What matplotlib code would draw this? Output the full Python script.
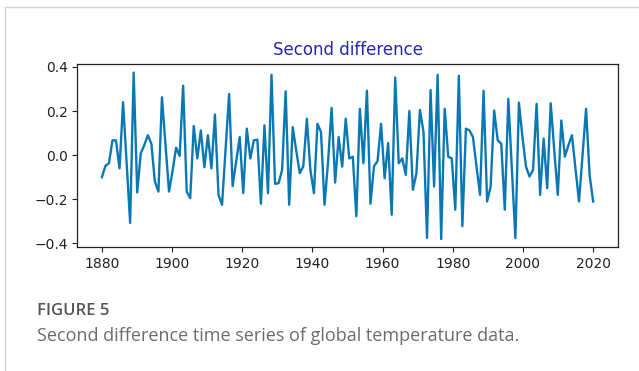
import numpy as np
import matplotlib
matplotlib.use("Agg")
import matplotlib.pyplot as plt
from matplotlib.lines import Line2D

# Second-difference series of the global temperature anomaly (°C), 140 values
second_diff = [
    -0.100, -0.049, -0.037, 0.067, 0.067, -0.060, 0.240, -0.030, -0.307, 0.374,
    -0.169, 0.008, 0.045, 0.090, 0.052, -0.120, -0.165, 0.262, 0.050, -0.165,
    -0.072, 0.034, -0.004, 0.315, -0.165, -0.195, 0.132, -0.015, 0.112, -0.055,
    0.090, -0.060, 0.184, -0.180, -0.225, 0.030, 0.277, -0.140, -0.030, 0.082,
    -0.172, 0.120, -0.015, 0.067, 0.070, -0.220, 0.135, -0.172, 0.364, -0.130,
    -0.127, -0.067, 0.289, -0.225, 0.127, 0.020, -0.082, -0.050, 0.165, -0.067,
    -0.172, 0.142, 0.105, -0.225, -0.030, 0.214, -0.124, 0.082, -0.052, 0.165,
    -0.015, -0.007, -0.277, 0.210, -0.037, 0.292, -0.220, -0.050, -0.027, 0.142,
    -0.105, 0.055, -0.270, 0.352, -0.037, -0.015, -0.090, 0.200, -0.157, -0.082,
    0.205, 0.105, -0.375, 0.295, -0.142, 0.364, -0.380, 0.210, -0.007, -0.015,
    -0.247, 0.360, -0.322, 0.120, 0.112, 0.082, -0.052, -0.180, 0.292, -0.210,
    -0.142, 0.202, 0.067, 0.052, -0.247, 0.255, -0.060, -0.376, 0.238, 0.082,
    -0.052, -0.097, -0.067, 0.232, -0.180, 0.075, -0.150, 0.235, 0.022, -0.180,
    0.157, -0.007, 0.045, 0.090, -0.060, -0.210, 0.000, 0.210, -0.090, -0.210,
]
year_start, year_end = 1880, 2020
years = np.linspace(year_start, year_end, len(second_diff))

x_ticks = [1880, 1900, 1920, 1940, 1960, 1980, 2000, 2020]
y_ticks = [-0.4, -0.2, 0.0, 0.2, 0.4]

title_text = "Second difference"
fig_label = "FIGURE 5"
caption = "Second difference time series of global temperature data."

W, H = 639, 371
fig = plt.figure(figsize=(W / 100, H / 100), dpi=100)
fig.patch.set_facecolor("white")

ax = fig.add_axes([77.3 / W, 1 - 247.3 / H, (617.7 - 77.3) / W, (247.3 - 64.3) / H])
ax.plot(years, second_diff, color="#0a78b4", linewidth=1.7)
ax.set_xticks(x_ticks)
ax.set_yticks(y_ticks)
ax.set_yticklabels([f"{v:.1f}".replace("-", "\u2212") for v in y_ticks])
ax.tick_params(labelsize=10, colors="#222222", labelcolor="#222222")
for s in ax.spines.values():
    s.set_color("#222222")
    s.set_linewidth(0.9)
ax.set_title(title_text, color="#2626b0", fontsize=12, pad=7)

# card frame
frame_color = "#d4d4d4"
fig.add_artist(Line2D([5 / W, 1.0], [1 - 7 / H, 1 - 7 / H], color=frame_color,
                      linewidth=1.0, transform=fig.transFigure))
fig.add_artist(Line2D([5 / W, 5 / W], [1 - 7 / H, 0.0], color=frame_color,
                      linewidth=1.0, transform=fig.transFigure))

fig.text(37 / W, 1 - 311 / H, fig_label, fontsize=12, color="#555555",
         family=["Open Sans", "DejaVu Sans"], fontweight="semibold", va="center", ha="left")
fig.text(37 / W, 1 - 336 / H, caption, fontsize=13, color="#6b6b6b",
         family=["Open Sans", "DejaVu Sans"], va="center", ha="left")

fig.savefig("out.png", dpi=100, facecolor="white")
